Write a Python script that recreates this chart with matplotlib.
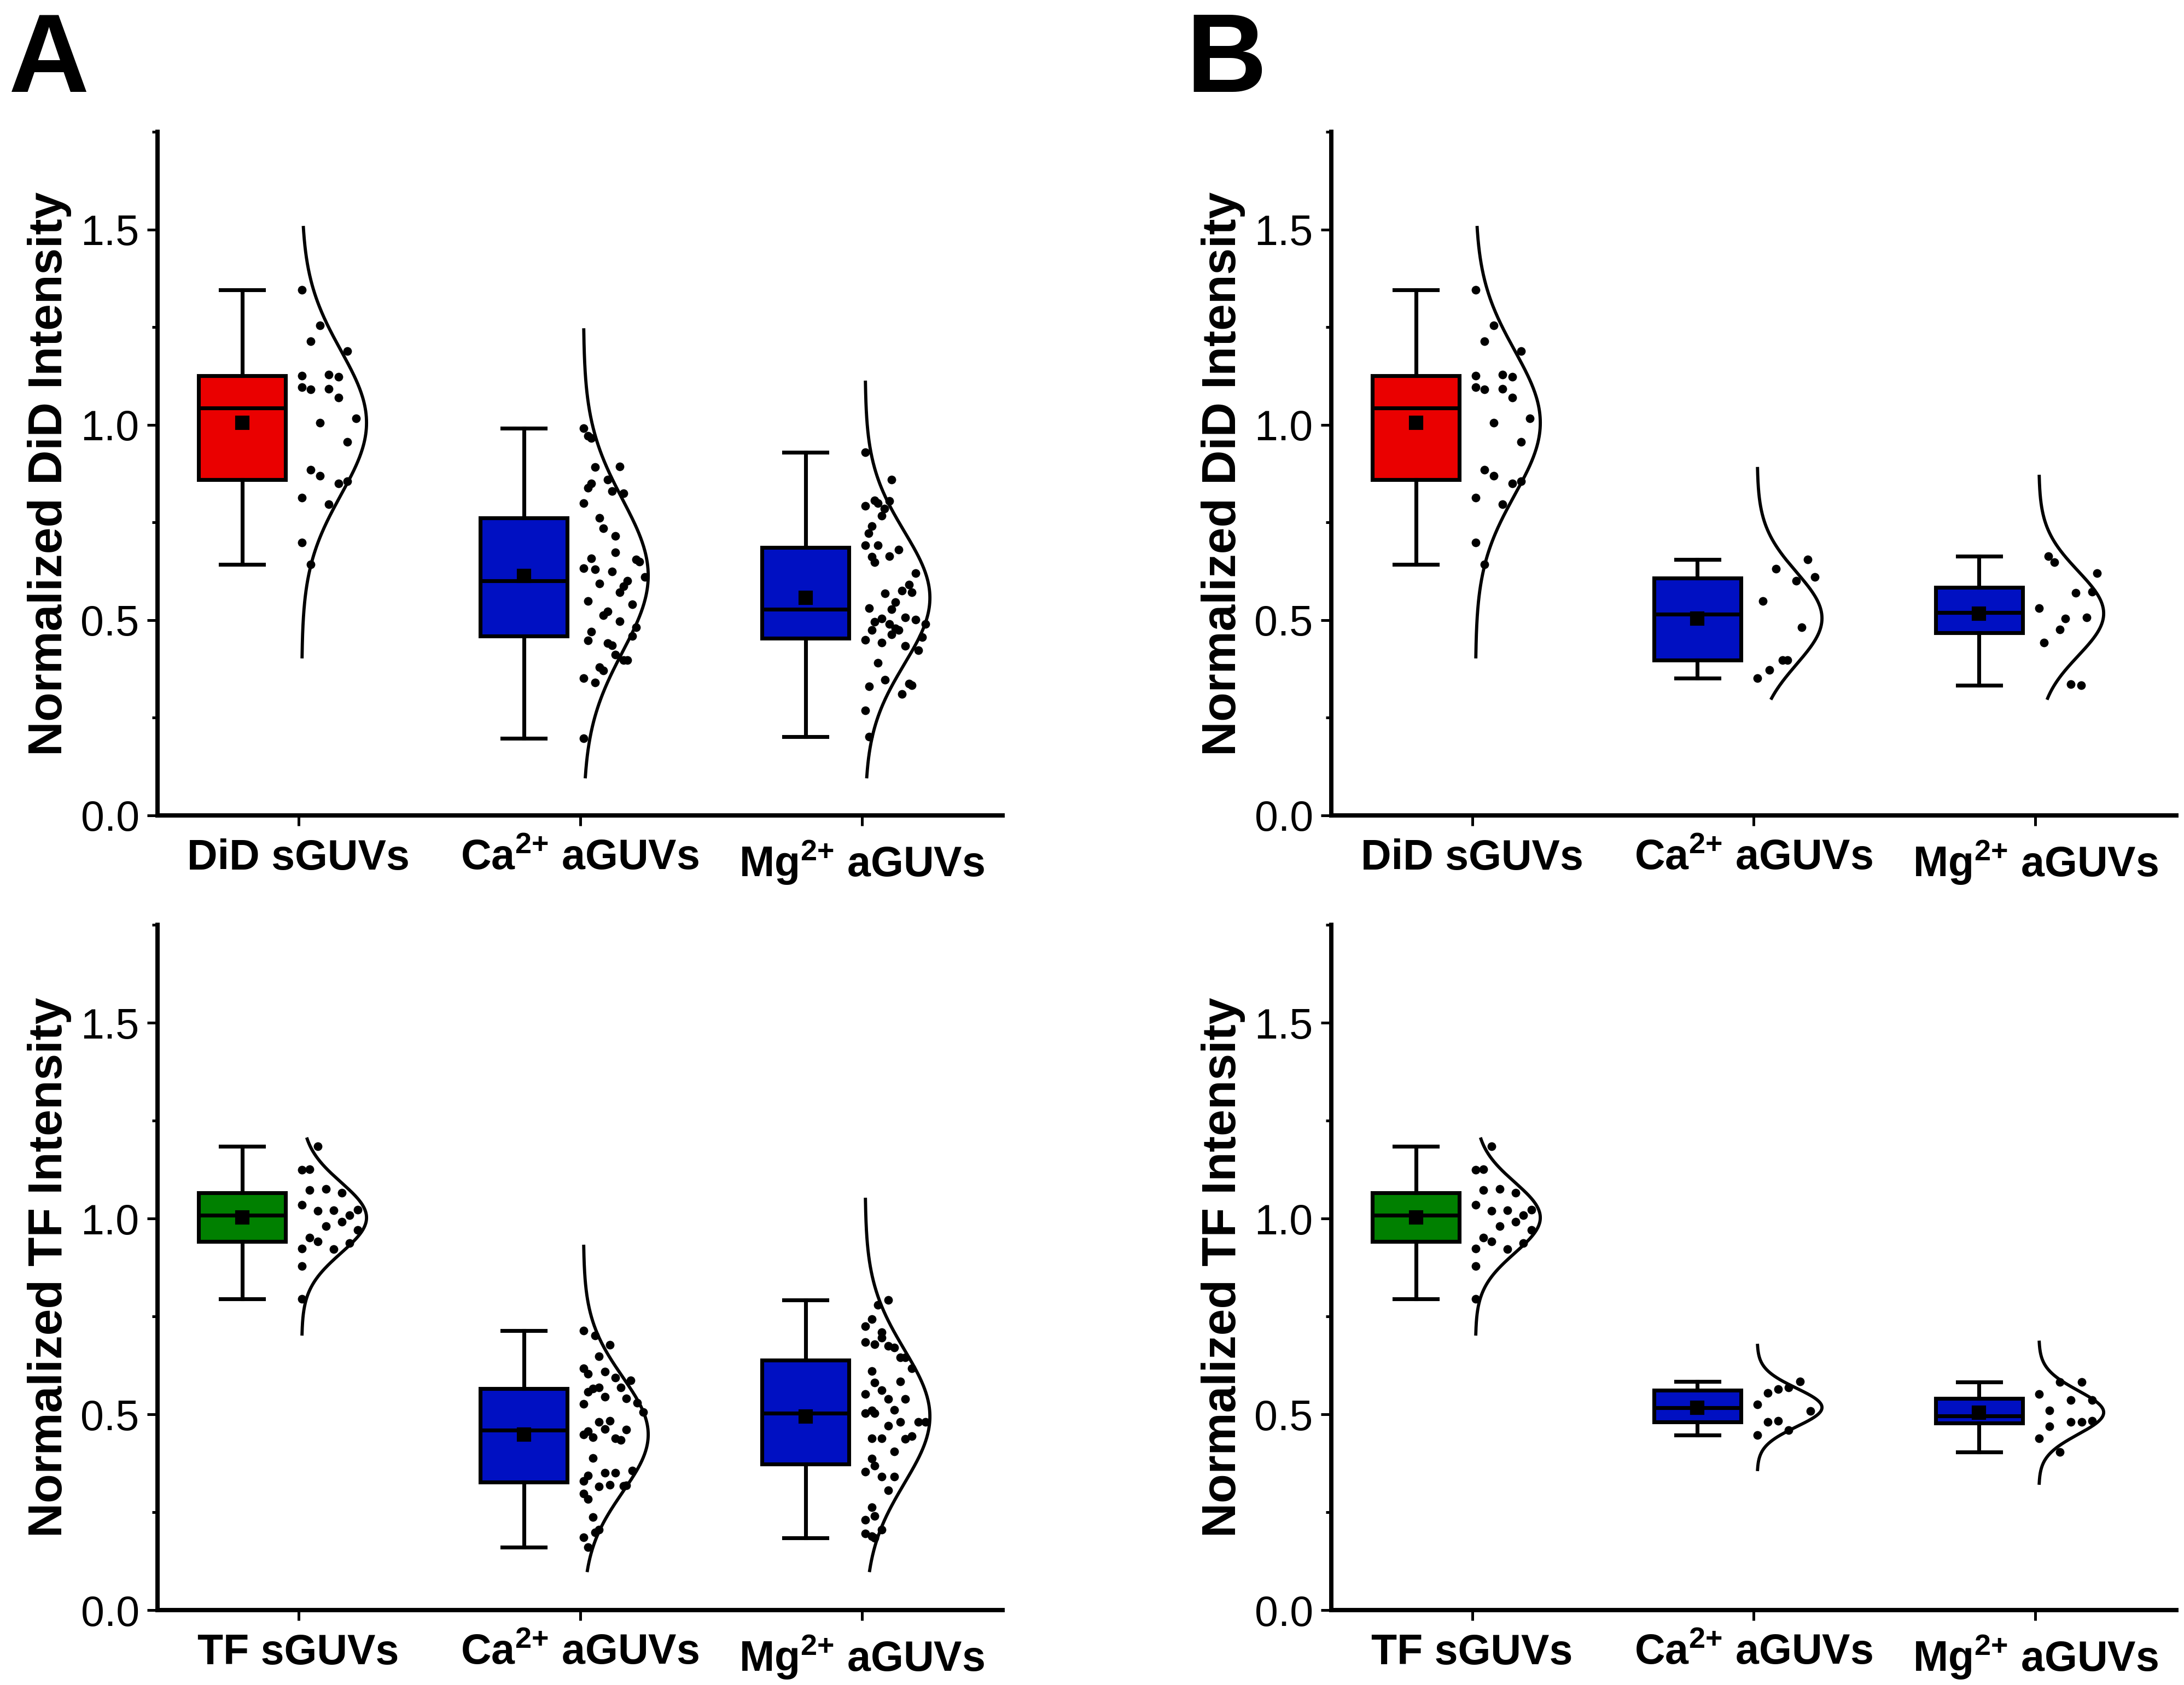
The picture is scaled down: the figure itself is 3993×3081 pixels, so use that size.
import numpy as np
import matplotlib.pyplot as plt

plt.rcParams['font.family'] = 'Liberation Sans'
plt.rcParams['mathtext.fontset'] = 'custom'
plt.rcParams['mathtext.rm'] = 'Liberation Sans'
plt.rcParams['mathtext.bf'] = 'Liberation Sans:bold'

# ---- data (normalized intensity) ----
# jitter values are the horizontal spread of each dot, as a fraction of the curve width
did_sguv = [1.346, 1.254, 1.214, 1.188, 1.126, 1.129, 1.123, 1.096, 1.090, 1.092,
            1.069, 1.005, 1.016, 0.956, 0.885, 0.869, 0.850, 0.856, 0.813, 0.796,
            0.699, 0.643]
did_sguv_jit = [0, .28, .14, .70, 0, .42, .57, 0, .14, .42, .57, .28, .84, .70, .14,
                .28, .57, .70, 0, .42, 0, .14]

ca_did_a = [0.991, 0.972, 0.966, 0.892, 0.893, 0.860, 0.839, 0.850, 0.830, 0.825,
            0.799, 0.762, 0.735, 0.716, 0.673, 0.658, 0.655, 0.650, 0.633, 0.630,
            0.625, 0.610, 0.594, 0.601, 0.586, 0.571, 0.549, 0.541, 0.522, 0.512,
            0.497, 0.482, 0.471, 0.459, 0.448, 0.441, 0.436, 0.412, 0.398, 0.397,
            0.380, 0.371, 0.351, 0.340, 0.198]
ca_did_a_jit = [0, .07, .12, .18, .56, .37, .07, .12, .44, .62, 0, .25, .31, .49, .49,
                .12, .81, .86, 0, .18, .44, .95, .25, .68, .62, .56, .07, .75, .37, .31,
                .56, .81, .12, .75, .07, .37, .44, .49, .62, .68, .25, .31, 0, .18, 0]

mg_did_a = [0.929, 0.859, 0.807, 0.800, 0.805, 0.785, 0.792, 0.767, 0.740, 0.722,
            0.691, 0.691, 0.680, 0.662, 0.648, 0.664, 0.620, 0.591, 0.575, 0.571,
            0.568, 0.546, 0.528, 0.531, 0.507, 0.501, 0.504, 0.496, 0.490, 0.479,
            0.475, 0.475, 0.464, 0.490, 0.457, 0.449, 0.443, 0.434, 0.423, 0.391,
            0.347, 0.338, 0.333, 0.311, 0.331, 0.269, 0.202]
mg_did_a_jit = [0, .41, .15, .20, .37, .30, 0, .26, .10, .05, 0, .20, .52, .10, .15,
                .37, .78, .68, .57, .72, .31, .47, .41, .06, .62, .78, .26, .15, .37,
                .47, .52, .10, .41, .93, .88, 0, .26, .62, .82, .20, .31, .68, .72,
                .57, .06, 0, .06]

ca_did_b = [0.655, 0.631, 0.610, 0.601, 0.549, 0.482, 0.398, 0.398, 0.372, 0.351]
ca_did_b_jit = [.78, .29, .89, .60, .09, .69, .39, .47, .19, 0]

mg_did_b = [0.664, 0.648, 0.620, 0.570, 0.572, 0.531, 0.504, 0.507, 0.476, 0.443,
            0.336, 0.333]
mg_did_b_jit = [.15, .24, .90, .57, .82, 0, .41, .74, .32, .08, .49, .65]

tf_sguv = [1.184, 1.124, 1.126, 1.072, 1.075, 1.066, 1.035, 1.019, 1.021, 1.009,
           1.023, 0.981, 0.992, 0.970, 0.951, 0.941, 0.922, 0.937, 0.923, 0.879,
           0.794]
tf_sguv_jit = [.25, 0, .12, .12, .37, .62, 0, .25, .49, .74, .86, .37, .62, .86, .12,
               .25, .49, .74, 0, 0, 0]

ca_tf_a = [0.714, 0.701, 0.677, 0.648, 0.617, 0.604, 0.609, 0.594, 0.586, 0.568,
           0.557, 0.565, 0.568, 0.544, 0.540, 0.530, 0.527, 0.506, 0.481, 0.483,
           0.462, 0.461, 0.449, 0.457, 0.441, 0.439, 0.434, 0.388, 0.344, 0.351,
           0.351, 0.356, 0.329, 0.315, 0.320, 0.317, 0.319, 0.297, 0.284, 0.238,
           0.186, 0.199, 0.206, 0.160]
ca_tf_a_jit = [0, .18, .41, .24, 0, .07, .33, .49, .73, .24, .07, .15, .58, .33, .66,
               .83, 0, .92, .24, .41, .33, .66, 0, .07, .15, .49, .58, .15, .07, .33,
               .49, .75, 0, .24, .41, .62, .66, 0, .07, .15, 0, .18, .24, .07]

mg_tf_a = [0.792, 0.780, 0.743, 0.725, 0.709, 0.696, 0.684, 0.679, 0.674, 0.671,
           0.645, 0.645, 0.618, 0.611, 0.584, 0.581, 0.562, 0.552, 0.539, 0.539,
           0.510, 0.503, 0.503, 0.511, 0.481, 0.481, 0.481, 0.471, 0.439, 0.439,
           0.444, 0.437, 0.405, 0.387, 0.369, 0.353, 0.341, 0.341, 0.306, 0.263,
           0.240, 0.230, 0.196, 0.189, 0.206, 0.184]
mg_tf_a_jit = [.36, .20, .10, 0, .26, .26, 0, .15, .36, .45, .54, .62, .72, .10, .54,
               .15, .26, 0, .36, .62, .10, 0, .15, .45, .54, .82, .93, .36, .10, .26,
               .72, .62, .45, .10, .15, 0, .26, .45, .36, .10, .15, 0, 0, .10, .26, .15]

ca_tf_b = [0.584, 0.564, 0.555, 0.569, 0.525, 0.508, 0.480, 0.483, 0.459, 0.447]
ca_tf_b_jit = [.66, .32, .16, .48, 0, .82, .16, .32, .48, 0]

mg_tf_b = [0.583, 0.583, 0.552, 0.537, 0.537, 0.510, 0.480, 0.480, 0.483, 0.469,
           0.439, 0.403]
mg_tf_b_jit = [.32, .66, 0, .49, .82, .16, .49, .66, .82, .16, 0, .32]

# extent of the fitted normal curve drawn next to each group (low, high)
did_sguv_rng = (0.406, 1.505)
ca_did_a_rng = (0.099, 1.243)
mg_did_a_rng = (0.099, 1.109)
ca_did_b_rng = (0.300, 0.888)
mg_did_b_rng = (0.300, 0.868)
tf_sguv_rng = (0.705, 1.203)
ca_tf_a_rng = (0.101, 0.929)
mg_tf_a_rng = (0.101, 1.049)
ca_tf_b_rng = (0.359, 0.676)
mg_tf_b_rng = (0.324, 0.684)

did_labels = ['DiD sGUVs', r'Ca$^{\mathbf{2{+}}}$ aGUVs', r'Mg$^{\mathbf{2{+}}}$ aGUVs']
tf_labels = ['TF sGUVs', r'Ca$^{\mathbf{2{+}}}$ aGUVs', r'Mg$^{\mathbf{2{+}}}$ aGUVs']

# ---- style ----
red = '#EA0000'
blue = '#0010C2'
green = '#008000'

BOX_SHIFT = 0.2
BOX_W = 0.31
BASE = 0.012
CURVE_W = 0.23
LW = 1.7

W, H, DPI = 3993, 3081, 300
fig = plt.figure(figsize=(W / DPI, H / DPI), dpi=DPI)


def draw_group(ax, pos, vals, jit, rng, color):
    vals = np.asarray(vals)
    ax.boxplot([vals], positions=[pos - BOX_SHIFT], widths=BOX_W,
               capwidths=[BOX_W / 2], whis=(0, 100), showmeans=True,
               showfliers=False, patch_artist=True, manage_ticks=False,
               boxprops=dict(facecolor=color, edgecolor='k', linewidth=LW),
               whiskerprops=dict(color='k', linewidth=LW),
               capprops=dict(color='k', linewidth=LW),
               medianprops=dict(color='k', linewidth=LW),
               meanprops=dict(marker='s', markerfacecolor='k',
                              markeredgecolor='k', markersize=5.5))
    m, s = vals.mean(), vals.std(ddof=1)
    y = np.linspace(rng[0], rng[1], 300)
    x = pos + BASE + CURVE_W * np.exp(-0.5 * ((y - m) / s) ** 2)
    ax.plot(x, y, color='k', lw=1.4)
    ax.plot(pos + BASE + CURVE_W * np.asarray(jit), vals, 'o', color='k',
            ms=3.8, mew=0, zorder=3)


def setup(ax, labels, ylabel):
    ax.set_xlim(0.5, 3.5)
    ax.set_ylim(0, 1.75)
    for side in ['top', 'right']:
        ax.spines[side].set_visible(False)
    for side in ['left', 'bottom']:
        ax.spines[side].set_linewidth(1.9)
    ax.set_yticks([0, 0.5, 1.0, 1.5])
    ax.set_yticklabels(['0.0', '0.5', '1.0', '1.5'])
    ax.set_yticks([0.25, 0.75, 1.25, 1.75], minor=True)
    ax.set_xticks([1, 2, 3])
    ax.set_xticklabels(labels, fontweight='bold')
    ax.tick_params(axis='both', which='major', direction='out', length=4.5,
                   width=1.2, labelsize=18.5)
    ax.tick_params(axis='y', which='major', pad=3.5)
    ax.tick_params(axis='x', which='major', pad=5.5)
    ax.tick_params(axis='y', which='minor', direction='out', length=2.4,
                   width=1.2)
    ax.set_ylabel(ylabel, fontsize=21, fontweight='bold', labelpad=4)


def axes_at(x0, y_top, x1, y_bot):
    return fig.add_axes([x0 / W, 1 - y_bot / H, (x1 - x0) / W, (y_bot - y_top) / H])


ax1 = axes_at(288, 241, 1833, 1491)
ax2 = axes_at(2434, 241, 3979, 1491)
ax3 = axes_at(288, 1691, 1833, 2944)
ax4 = axes_at(2434, 1691, 3979, 2944)

draw_group(ax1, 1, did_sguv, did_sguv_jit, did_sguv_rng, red)
draw_group(ax1, 2, ca_did_a, ca_did_a_jit, ca_did_a_rng, blue)
draw_group(ax1, 3, mg_did_a, mg_did_a_jit, mg_did_a_rng, blue)

draw_group(ax2, 1, did_sguv, did_sguv_jit, did_sguv_rng, red)
draw_group(ax2, 2, ca_did_b, ca_did_b_jit, ca_did_b_rng, blue)
draw_group(ax2, 3, mg_did_b, mg_did_b_jit, mg_did_b_rng, blue)

draw_group(ax3, 1, tf_sguv, tf_sguv_jit, tf_sguv_rng, green)
draw_group(ax3, 2, ca_tf_a, ca_tf_a_jit, ca_tf_a_rng, blue)
draw_group(ax3, 3, mg_tf_a, mg_tf_a_jit, mg_tf_a_rng, blue)

draw_group(ax4, 1, tf_sguv, tf_sguv_jit, tf_sguv_rng, green)
draw_group(ax4, 2, ca_tf_b, ca_tf_b_jit, ca_tf_b_rng, blue)
draw_group(ax4, 3, mg_tf_b, mg_tf_b_jit, mg_tf_b_rng, blue)

setup(ax1, did_labels, 'Normalized DiD Intensity')
setup(ax2, did_labels, 'Normalized DiD Intensity')
setup(ax3, tf_labels, 'Normalized TF Intensity')
setup(ax4, tf_labels, 'Normalized TF Intensity')

fig.text(16 / W, 1 - 20 / H, 'A', fontsize=49, fontweight='bold', va='top', ha='left')
fig.text(2168 / W, 1 - 20 / H, 'B', fontsize=49, fontweight='bold', va='top', ha='left')

fig.savefig('out.png', dpi=DPI)
